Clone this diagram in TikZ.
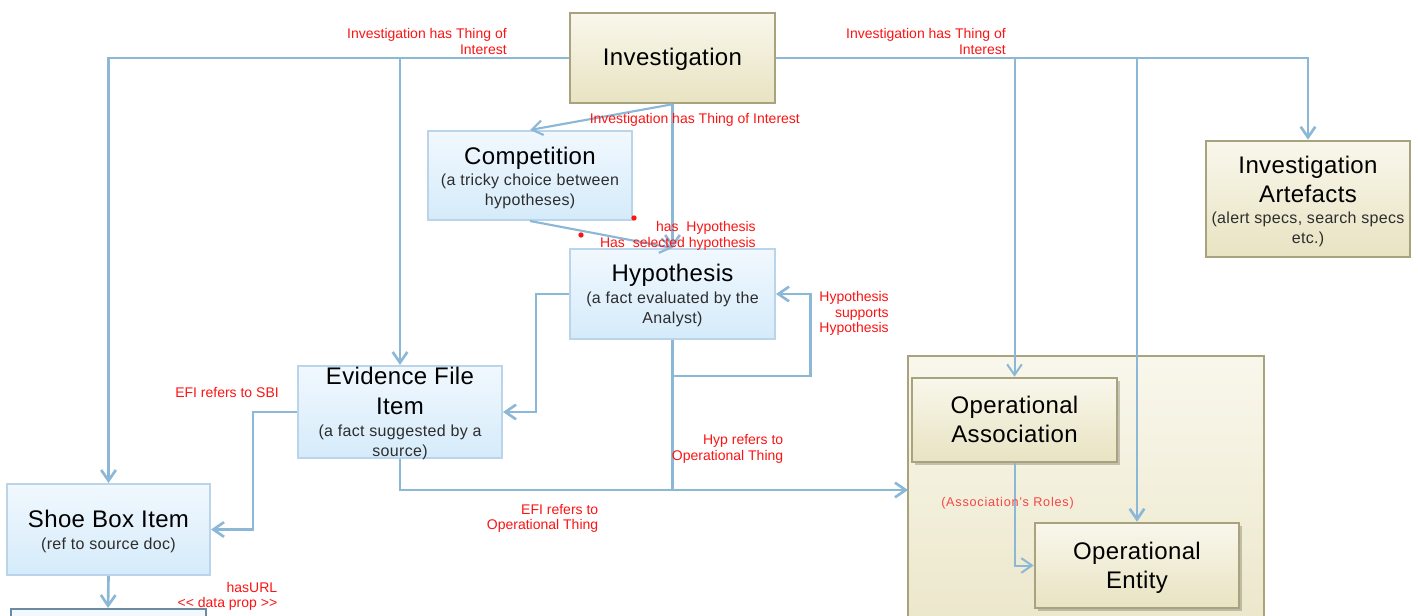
\documentclass[tikz,border=0pt]{standalone}
\usepackage{fontspec}
\usetikzlibrary{arrows.meta,shadows}
\setmainfont{Liberation Sans}
\newfontfamily\titlef[LetterSpace=1.5]{Liberation Sans}
\newfontfamily\subf[LetterSpace=2]{Liberation Sans}
\newfontfamily\redf{Liberation Sans}
\newfontfamily\rolef[LetterSpace=6]{Liberation Sans}

\definecolor{link}{RGB}{140,184,216}
\definecolor{lblred}{RGB}{250,20,20}
\definecolor{rolered}{RGB}{245,70,70}
\definecolor{bluebd}{RGB}{186,212,234}
\definecolor{bluetop}{RGB}{241,248,254}
\definecolor{bluebot}{RGB}{213,235,250}
\definecolor{khbd}{RGB}{168,163,124}
\definecolor{khtop}{RGB}{249,247,236}
\definecolor{khbot}{RGB}{232,227,194}
\definecolor{slate}{RGB}{108,138,162}
\definecolor{subgray}{RGB}{45,45,45}

% stacked lines with a fixed baseline distance; baseline = first line
\newcommand\lines[2]{\begin{tabular}[t]{@{}#1@{}}#2\end{tabular}}

\tikzset{
  box/.style={rectangle, inner sep=0pt, minimum width=153.75pt, minimum height=67.5pt},
  bluebox/.style={box, draw=bluebd, line width=1.5pt, top color=bluetop, bottom color=bluebot},
  khbox/.style={box, draw=khbd, line width=1.9pt, top color=khtop, bottom color=khbot},
  shadowed/.style={drop shadow={shadow xshift=2pt, shadow yshift=-2pt, fill=black, opacity=0.2}},
  ttl/.style={inner sep=0pt, anchor=base, font=\fontsize{18}{22}\titlef},
  sub/.style={inner sep=0pt, anchor=base, text=subgray, font=\fontsize{12}{15}\subf},
  lbl/.style={inner sep=0pt, anchor=base east, text=lblred, font=\fontsize{10.5}{11.6}\redf},
  dot/.style={circle, fill=lblred, inner sep=0pt, minimum size=4pt},
  wire/.style={draw=link, line width=2pt},
  conn/.style={wire, -{Straight Barb[length=8pt,width=11pt]}},
  thinwire/.style={line width=1.5pt},
}

\begin{document}
\begin{tikzpicture}[x=0.75pt, y=-0.75pt]
\useasboundingbox (0,0) rectangle (1418,616);
\clip (0,0) rectangle (1418,616);

% operational container and its contents
\node[khbox, minimum width=267pt, minimum height=258pt] (ops) at (1086,528) {};
\node[khbox, shadowed, minimum height=63pt] (oa) at (1014.5,420) {};
\node[khbox, shadowed, minimum width=153pt, minimum height=63.75pt] (oe) at (1137,565.5) {};

% class boxes
\node[khbox] (inv) at (672.5,58) {};
\node[bluebox, minimum width=153pt, minimum height=66.75pt] (comp) at (530,175.5) {};
\node[bluebox] (hyp) at (672.5,294) {};
\node[bluebox, minimum width=153pt, minimum height=69pt] (efi) at (400,412) {};
\node[bluebox, minimum width=152.25pt, minimum height=68.25pt] (sbi) at (108.5,529.5) {};
\node[box, draw=slate, line width=1.5pt, fill=bluetop, minimum width=146.25pt, minimum height=69pt] (url) at (108,655) {};
\node[khbox, minimum width=153pt, minimum height=87pt] (art) at (1308,199) {};

% box texts
\node[ttl] (invT) at (672.5,66) {Investigation};
\node[ttl] (compT) at (530,164.5) {Competition};
\node[sub] (compS) at (530,186) {\lines{c}{(a tricky choice between\\hypotheses)}};
\node[ttl] (hypT) at (672.5,282) {Hypothesis};
\node[sub] (hypS) at (672.5,303.5) {\lines{c}{(a fact evaluated by the\\Analyst)}};
\node[ttl] (efiT) at (400,385) {\lines{c}{Evidence File\\Item}};
\node[sub] (efiS) at (400,436.5) {\lines{c}{(a fact suggested by a\\source)}};
\node[ttl] (sbiT) at (108.5,527.5) {Shoe Box Item};
\node[sub] (sbiS) at (108.5,549) {(ref to source doc)};
\node[ttl] (artT) at (1308,173.3) {\lines{c}{Investigation\\Artefacts}};
\node[sub] (artS) at (1308,224) {\lines{c}{(alert specs, search specs\\etc.)}};
\node[ttl] (oaT) at (1014.5,413.3) {\lines{c}{Operational\\Association}};
\node[ttl] (oeT) at (1137,559) {\lines{c}{Operational\\Entity}};

% connectors
\coordinate (opsIn) at (908,490);
\draw[conn] (inv.west) -| (sbi.north);
\draw[conn] (efi.north |- inv.west) -- (efi.north);
\draw[conn] (inv.east) -| (art.north);
\draw[conn, thinwire] (oa.north |- inv.east) -- (oa.north);
\draw[conn] (oe.north |- inv.east) -- (oe.north);
\draw[conn, line width=1.6pt] (inv.south) -- (comp.north);
\draw[conn] (inv.south) -- (hyp.north);
\draw[conn, line width=1.6pt] (comp.south) -- (hyp.north);
\draw[conn] (hyp.west) -- ++(-33,0) |- (efi.east);
\draw[conn] (hyp.south) |- ++(138,36) |- (hyp.east);
\draw[conn] (efi.south) |- (opsIn);
\draw[wire] (hyp.south) -- (hyp.south |- opsIn);
\draw[conn] (efi.west) -- ++(-44,0) |- (sbi.east);
\draw[conn] (sbi.south) -- (url.north);
\draw[conn, thinwire] (oa.south) |- (oe.west);

% property labels
\node[lbl] (l1) at (507,39) {\lines{r}{Investigation has Thing of\\Interest}};
\node[lbl] (l2) at (1006,39) {\lines{r}{Investigation has Thing of\\Interest}};
\node[lbl, anchor=base west] (l3) at (589.5,123.3) {Investigation has Thing of Interest};
\node[lbl] (l4) at (756,231.7) {\lines{r}{has\ \ Hypothesis\\Has\ \ selected hypothesis}};
\node[lbl] (l5) at (889,301.7) {\lines{r}{Hypothesis\\supports\\Hypothesis}};
\node[lbl, anchor=base west] (l6) at (175,397.3) {EFI refers to SBI};
\node[lbl] (l7) at (783.5,445) {\lines{r}{Hyp refers to\\Operational Thing}};
\node[lbl] (l8) at (598.5,514.3) {\lines{r}{EFI refers to\\Operational Thing}};
\node[lbl, anchor=base west, text=rolered, font=\fontsize{9.5}{11}\rolef] (l9) at (941,506.7) {(Association’s Roles)};
\node[lbl] (l10) at (277.5,592.3) {\lines{r}{hasURL\\<\kern0pt< data prop >\kern0pt>}};

% loose marker dots
\node[dot] (d1) at (634,218) {};
\node[dot] (d2) at (581,235) {};
\end{tikzpicture}
\end{document}
